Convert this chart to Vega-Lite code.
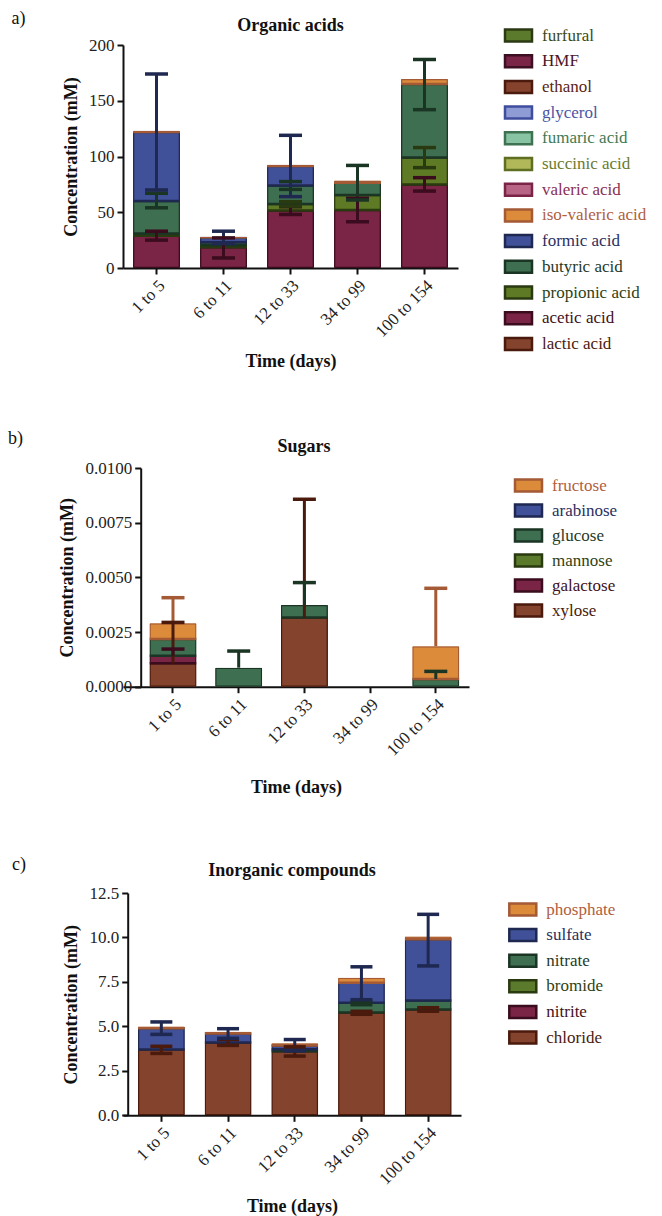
{
  "$schema": "https://vega.github.io/schema/vega-lite/v6.json",
  "background": "white",
  "padding": {"left": 7, "top": 10, "right": 0, "bottom": 0},
  "spacing": 59,
  "columns": 1,
  "align": "none",
  "resolve": {"scale": {"fill": "independent", "stroke": "independent", "x": "independent", "y": "independent"}, "legend": {"fill": "independent", "stroke": "independent"}},
  "config": {
    "view": {"stroke": null},
    "font": "Liberation Serif",
    "axis": {"labelFont": "Liberation Serif", "labelFontSize": 17, "labelColor": "#222", "titleFont": "Liberation Serif", "titleFontSize": 18, "titleFontWeight": "bold", "titleColor": "#111", "domainColor": "#111", "domainWidth": 2, "tickColor": "#111", "tickWidth": 2, "tickSize": 6, "grid": false, "labelPadding": 3},
    "axisY": {"titlePadding": 8},
    "axisX": {"labelAngle": -45, "titlePadding": 13},
    "legend": {"labelFont": "Liberation Serif", "labelFontSize": 17},
    "title": {"font": "Liberation Serif", "fontSize": 18, "fontWeight": "bold", "color": "#111"}
  },
  "concat": [
    {
      "title": {"text": "a)", "anchor": "start", "frame": "bounds", "fontSize": 18, "fontWeight": "normal", "dx": -51, "dy": 15},
      "vconcat": [
        {
          "title": {"text": "Organic acids", "frame": "group", "offset": 10, "dy": 9},
          "width": 335,
          "height": 223,
          "layer": [
            {
              "data": {"values": [
                {"t": "1 to 5", "compound": "acetic acid", "v": 29},
                {"t": "1 to 5", "compound": "propionic acid", "v": 2},
                {"t": "1 to 5", "compound": "butyric acid", "v": 29},
                {"t": "1 to 5", "compound": "formic acid", "v": 62},
                {"t": "1 to 5", "compound": "iso-valeric acid", "v": 1.2},
                {"t": "6 to 11", "compound": "acetic acid", "v": 18.5},
                {"t": "6 to 11", "compound": "propionic acid", "v": 2},
                {"t": "6 to 11", "compound": "butyric acid", "v": 2.5},
                {"t": "6 to 11", "compound": "formic acid", "v": 4.5},
                {"t": "6 to 11", "compound": "iso-valeric acid", "v": 0.5},
                {"t": "12 to 33", "compound": "acetic acid", "v": 51.5},
                {"t": "12 to 33", "compound": "propionic acid", "v": 6},
                {"t": "12 to 33", "compound": "butyric acid", "v": 16.5},
                {"t": "12 to 33", "compound": "formic acid", "v": 17.5},
                {"t": "12 to 33", "compound": "iso-valeric acid", "v": 1},
                {"t": "34 to 99", "compound": "acetic acid", "v": 52},
                {"t": "34 to 99", "compound": "propionic acid", "v": 13.5},
                {"t": "34 to 99", "compound": "butyric acid", "v": 11},
                {"t": "34 to 99", "compound": "iso-valeric acid", "v": 2},
                {"t": "100 to 154", "compound": "acetic acid", "v": 75},
                {"t": "100 to 154", "compound": "propionic acid", "v": 24},
                {"t": "100 to 154", "compound": "butyric acid", "v": 66},
                {"t": "100 to 154", "compound": "iso-valeric acid", "v": 4.5}
              ]},
              "transform": [{"calculate": "indexof(['furfural','HMF','ethanol','glycerol','fumaric acid','succinic acid','valeric acid','iso-valeric acid','formic acid','butyric acid','propionic acid','acetic acid','lactic acid'], datum.compound)", "as": "k"}],
              "mark": {"type": "bar", "strokeWidth": 2.5, "cornerRadius": 1},
              "encoding": {
                "x": {"field": "t", "type": "nominal", "scale": {"domain": ["1 to 5", "6 to 11", "12 to 33", "34 to 99", "100 to 154"], "paddingInner": 0.3, "paddingOuter": 0.15}, "axis": {"title": "Time (days)"}},
                "y": {"field": "v", "type": "quantitative", "stack": "zero", "scale": {"domain": [0, 200], "nice": false}, "axis": {"title": "Concentration (mM)", "values": [0, 50, 100, 150, 200], "format": "d"}},
                "fill": {"field": "compound", "type": "nominal",
                  "scale": {"domain": ["furfural","HMF","ethanol","glycerol","fumaric acid","succinic acid","valeric acid","iso-valeric acid","formic acid","butyric acid","propionic acid","acetic acid","lactic acid"],
                    "range": ["#5b7a2b","#7a2548","#85432d","#8e9bd4","#88c4a4","#b0b85a","#b86585","#db8b3a","#40519a","#3f6f51","#5f7a24","#7a2446","#84432c"]},
                  "legend": {"title": null, "orient": "none", "legendX": 384, "legendY": -21, "padding": 0, "symbolType": "M-1.35,-0.6H1.35V0.6H-1.35Z", "symbolSize": 400, "symbolStrokeWidth": 2.5, "labelFont": "Liberation Serif", "labelFontSize": 17, "labelOffset": 12, "rowPadding": 2.7, "labelLimit": 200,
                    "encode": {"labels": {"update": {"fill": {"signal": "['#3a4a1a','#4a1628','#5a2414','#4a55a5','#3f7a55','#6a7a2e','#8a3050','#b0603f','#2a3060','#1f3a28','#2f3f15','#3f1020','#4a1a0e'][indexof(['furfural','HMF','ethanol','glycerol','fumaric acid','succinic acid','valeric acid','iso-valeric acid','formic acid','butyric acid','propionic acid','acetic acid','lactic acid'], datum.value)]"}}}}}},
                "stroke": {"field": "compound", "type": "nominal",
                  "scale": {"domain": ["furfural","HMF","ethanol","glycerol","fumaric acid","succinic acid","valeric acid","iso-valeric acid","formic acid","butyric acid","propionic acid","acetic acid","lactic acid"],
                    "range": ["#2c3a14","#3d0f22","#4a1a0e","#3f4d9e","#3e7250","#5e6e22","#7a2548","#a45a35","#1f2850","#1b3524","#2a3a10","#3a0c1d","#4a1a0d"]},
                  "legend": {"title": null, "orient": "none", "legendX": 384, "legendY": -21, "padding": 0, "symbolType": "M-1.35,-0.6H1.35V0.6H-1.35Z", "symbolSize": 400, "symbolStrokeWidth": 2.5, "labelFont": "Liberation Serif", "labelFontSize": 17, "labelOffset": 12, "rowPadding": 2.7, "labelLimit": 200,
                    "encode": {"labels": {"update": {"fill": {"signal": "['#3a4a1a','#4a1628','#5a2414','#4a55a5','#3f7a55','#6a7a2e','#8a3050','#b0603f','#2a3060','#1f3a28','#2f3f15','#3f1020','#4a1a0e'][indexof(['furfural','HMF','ethanol','glycerol','fumaric acid','succinic acid','valeric acid','iso-valeric acid','formic acid','butyric acid','propionic acid','acetic acid','lactic acid'], datum.value)]"}}}}}},
                "order": {"field": "k", "type": "quantitative", "sort": "descending"}
              }
            },
            {
              "data": {"name": "errA", "values": [
                {"t": "1 to 5", "compound": "acetic acid", "lo": 25, "hi": 33},
                {"t": "1 to 5", "compound": "butyric acid", "lo": 54, "hi": 67},
                {"t": "1 to 5", "compound": "formic acid", "lo": 70, "hi": 174},
                {"t": "6 to 11", "compound": "acetic acid", "lo": 9, "hi": 27},
                {"t": "6 to 11", "compound": "formic acid", "lo": 22, "hi": 33},
                {"t": "12 to 33", "compound": "acetic acid", "lo": 48, "hi": 55},
                {"t": "12 to 33", "compound": "propionic acid", "lo": 55.5, "hi": 59.5},
                {"t": "12 to 33", "compound": "butyric acid", "lo": 70.5, "hi": 77.5},
                {"t": "12 to 33", "compound": "formic acid", "lo": 64, "hi": 119},
                {"t": "34 to 99", "compound": "acetic acid", "lo": 41.5, "hi": 62.5},
                {"t": "34 to 99", "compound": "butyric acid", "lo": 61, "hi": 92},
                {"t": "100 to 154", "compound": "acetic acid", "lo": 69, "hi": 81},
                {"t": "100 to 154", "compound": "propionic acid", "lo": 90, "hi": 108},
                {"t": "100 to 154", "compound": "butyric acid", "lo": 142, "hi": 187}
              ]},
              "mark": {"type": "rule", "strokeWidth": 3},
              "encoding": {
                "x": {"field": "t", "type": "nominal"},
                "y": {"field": "lo", "type": "quantitative"},
                "y2": {"field": "hi"},
                "stroke": {"field": "compound", "type": "nominal", "legend": null}
              }
            },
            {
              "data": {"name": "errA"},
              "mark": {"type": "point", "shape": "M-1,0H1", "filled": false, "strokeWidth": 3.5, "size": 529, "opacity": 1},
              "encoding": {
                "x": {"field": "t", "type": "nominal"},
                "y": {"field": "hi", "type": "quantitative"},
                "stroke": {"field": "compound", "type": "nominal", "legend": null}
              }
            },
            {
              "data": {"name": "errA"},
              "mark": {"type": "point", "shape": "M-1,0H1", "filled": false, "strokeWidth": 3.5, "size": 529, "opacity": 1},
              "encoding": {
                "x": {"field": "t", "type": "nominal"},
                "y": {"field": "lo", "type": "quantitative"},
                "stroke": {"field": "compound", "type": "nominal", "legend": null}
              }
            }
          ]
        }
      ]
    },
    {
      "title": {"text": "b)", "anchor": "start", "frame": "bounds", "fontSize": 18, "fontWeight": "normal", "dx": -51, "dy": 14},
      "vconcat": [
        {
          "title": {"text": "Sugars", "frame": "group", "offset": 10, "dy": 7, "dx": 8},
          "width": 346,
          "height": 218.7,
          "layer": [
            {
              "data": {"values": [
                {"t": "1 to 5", "compound": "xylose", "v": 0.00107},
                {"t": "1 to 5", "compound": "galactose", "v": 0.00035},
                {"t": "1 to 5", "compound": "glucose", "v": 0.00076},
                {"t": "1 to 5", "compound": "fructose", "v": 0.00072},
                {"t": "6 to 11", "compound": "glucose", "v": 0.00087},
                {"t": "12 to 33", "compound": "xylose", "v": 0.00316},
                {"t": "12 to 33", "compound": "glucose", "v": 0.00058},
                {"t": "100 to 154", "compound": "glucose", "v": 0.00035},
                {"t": "100 to 154", "compound": "fructose", "v": 0.0015}
              ]},
              "transform": [{"calculate": "indexof(['fructose','arabinose','glucose','mannose','galactose','xylose'], datum.compound)", "as": "k"}],
              "mark": {"type": "bar", "strokeWidth": 2.5, "cornerRadius": 1},
              "encoding": {
                "x": {"field": "t", "type": "nominal", "scale": {"domain": ["1 to 5", "6 to 11", "12 to 33", "34 to 99", "100 to 154"], "paddingInner": 0.285, "paddingOuter": 0.2757, "align": 0.7316}, "axis": {"title": "Time (days)", "titlePadding": 20}},
                "y": {"field": "v", "type": "quantitative", "stack": "zero", "scale": {"domain": [0, 0.01], "nice": false}, "axis": {"title": "Concentration (mM)", "values": [0, 0.0025, 0.005, 0.0075, 0.01], "format": ".4f", "offset": -17.7}},
                "fill": {"field": "compound", "type": "nominal",
                  "scale": {"domain": ["fructose","arabinose","glucose","mannose","galactose","xylose"], "range": ["#db8b3a","#40519a","#3f6f51","#5b7a2b","#7a2446","#84432c"]},
                  "legend": {"title": null, "orient": "none", "legendX": 394, "legendY": 6, "padding": 0, "symbolType": "M-1.35,-0.6H1.35V0.6H-1.35Z", "symbolSize": 400, "symbolStrokeWidth": 2.5, "labelFont": "Liberation Serif", "labelFontSize": 17, "labelOffset": 12, "rowPadding": 2.0, "labelLimit": 200,
                    "encode": {"labels": {"update": {"fill": {"signal": "['#b0603f','#2a3060','#1f3a28','#2f3f15','#3f1020','#4a1a0e'][indexof(['fructose','arabinose','glucose','mannose','galactose','xylose'], datum.value)]"}}}}}},
                "stroke": {"field": "compound", "type": "nominal",
                  "scale": {"domain": ["fructose","arabinose","glucose","mannose","galactose","xylose"], "range": ["#a45a35","#1f2850","#1b3524","#2a3a10","#3a0c1d","#4a1a0d"]},
                  "legend": {"title": null, "orient": "none", "legendX": 394, "legendY": 6, "padding": 0, "symbolType": "M-1.35,-0.6H1.35V0.6H-1.35Z", "symbolSize": 400, "symbolStrokeWidth": 2.5, "labelFont": "Liberation Serif", "labelFontSize": 17, "labelOffset": 12, "rowPadding": 2.0, "labelLimit": 200,
                    "encode": {"labels": {"update": {"fill": {"signal": "['#b0603f','#2a3060','#1f3a28','#2f3f15','#3f1020','#4a1a0e'][indexof(['fructose','arabinose','glucose','mannose','galactose','xylose'], datum.value)]"}}}}}},
                "order": {"field": "k", "type": "quantitative", "sort": "descending"}
              }
            },
            {
              "data": {"name": "errB", "values": [
                {"t": "1 to 5", "compound": "xylose", "lo": 0.00107, "hi": 0.00294},
                {"t": "1 to 5", "compound": "galactose", "lo": 0.00142, "hi": 0.00172},
                {"t": "1 to 5", "compound": "fructose", "lo": 0.0029, "hi": 0.00407},
                {"t": "6 to 11", "compound": "glucose", "lo": 0.00087, "hi": 0.00163},
                {"t": "12 to 33", "compound": "xylose", "lo": 0.00316, "hi": 0.00857},
                {"t": "12 to 33", "compound": "glucose", "lo": 0.00374, "hi": 0.00476},
                {"t": "100 to 154", "compound": "glucose", "lo": 0.00035, "hi": 0.0007},
                {"t": "100 to 154", "compound": "fructose", "lo": 0.00185, "hi": 0.0045}
              ]},
              "mark": {"type": "rule", "strokeWidth": 3},
              "encoding": {
                "x": {"field": "t", "type": "nominal"},
                "y": {"field": "lo", "type": "quantitative"},
                "y2": {"field": "hi"},
                "stroke": {"field": "compound", "type": "nominal", "legend": null}
              }
            },
            {
              "data": {"name": "errB"},
              "mark": {"type": "point", "shape": "M-1,0H1", "filled": false, "strokeWidth": 3.5, "size": 529, "opacity": 1},
              "encoding": {
                "x": {"field": "t", "type": "nominal"},
                "y": {"field": "hi", "type": "quantitative"},
                "stroke": {"field": "compound", "type": "nominal", "legend": null}
              }
            }
          ]
        }
      ]
    },
    {
      "title": {"text": "c)", "anchor": "start", "frame": "bounds", "fontSize": 18, "fontWeight": "normal", "dx": -51, "dy": 16},
      "vconcat": [
        {
          "title": {"text": "Inorganic compounds", "frame": "group", "offset": 10, "dy": 6},
          "width": 338,
          "height": 222.3,
          "layer": [
            {
              "data": {"values": [
                {"t": "1 to 5", "compound": "chloride", "v": 3.7},
                {"t": "1 to 5", "compound": "sulfate", "v": 1.2},
                {"t": "1 to 5", "compound": "phosphate", "v": 0.1},
                {"t": "6 to 11", "compound": "chloride", "v": 4.1},
                {"t": "6 to 11", "compound": "sulfate", "v": 0.5},
                {"t": "6 to 11", "compound": "phosphate", "v": 0.1},
                {"t": "12 to 33", "compound": "chloride", "v": 3.6},
                {"t": "12 to 33", "compound": "nitrate", "v": 0.12},
                {"t": "12 to 33", "compound": "sulfate", "v": 0.2},
                {"t": "12 to 33", "compound": "phosphate", "v": 0.13},
                {"t": "34 to 99", "compound": "chloride", "v": 5.78},
                {"t": "34 to 99", "compound": "nitrate", "v": 0.55},
                {"t": "34 to 99", "compound": "sulfate", "v": 1.12},
                {"t": "34 to 99", "compound": "phosphate", "v": 0.28},
                {"t": "100 to 154", "compound": "chloride", "v": 5.95},
                {"t": "100 to 154", "compound": "nitrate", "v": 0.5},
                {"t": "100 to 154", "compound": "sulfate", "v": 3.45},
                {"t": "100 to 154", "compound": "phosphate", "v": 0.15}
              ]},
              "transform": [{"calculate": "indexof(['phosphate','sulfate','nitrate','bromide','nitrite','chloride'], datum.compound)", "as": "k"}],
              "mark": {"type": "bar", "strokeWidth": 2.5, "cornerRadius": 1},
              "encoding": {
                "x": {"field": "t", "type": "nominal", "scale": {"domain": ["1 to 5", "6 to 11", "12 to 33", "34 to 99", "100 to 154"], "paddingInner": 0.3, "paddingOuter": 0.1837, "align": 0.612}, "axis": {"title": "Time (days)", "titlePadding": 10}},
                "y": {"field": "v", "type": "quantitative", "stack": "zero", "scale": {"domain": [0, 12.5], "nice": false}, "axis": {"title": "Concentration (mM)", "values": [0, 2.5, 5, 7.5, 10, 12.5], "format": ".1f", "offset": -4.7}},
                "fill": {"field": "compound", "type": "nominal",
                  "scale": {"domain": ["phosphate","sulfate","nitrate","bromide","nitrite","chloride"], "range": ["#db8b3a","#40519a","#3f6f51","#5b7a2b","#7a2446","#84432c"]},
                  "legend": {"title": null, "orient": "none", "legendX": 388.3, "legendY": 5, "padding": 0, "symbolType": "M-1.35,-0.6H1.35V0.6H-1.35Z", "symbolSize": 400, "symbolStrokeWidth": 2.5, "labelFont": "Liberation Serif", "labelFontSize": 17, "labelOffset": 12, "rowPadding": 2.6, "labelLimit": 200,
                    "encode": {"labels": {"update": {"fill": {"signal": "['#b0603f','#2a3060','#1f3a28','#2f3f15','#3f1020','#4a1a0e'][indexof(['phosphate','sulfate','nitrate','bromide','nitrite','chloride'], datum.value)]"}}}}}},
                "stroke": {"field": "compound", "type": "nominal",
                  "scale": {"domain": ["phosphate","sulfate","nitrate","bromide","nitrite","chloride"], "range": ["#a45a35","#1f2850","#1b3524","#2a3a10","#3a0c1d","#4a1a0d"]},
                  "legend": {"title": null, "orient": "none", "legendX": 388.3, "legendY": 5, "padding": 0, "symbolType": "M-1.35,-0.6H1.35V0.6H-1.35Z", "symbolSize": 400, "symbolStrokeWidth": 2.5, "labelFont": "Liberation Serif", "labelFontSize": 17, "labelOffset": 12, "rowPadding": 2.6, "labelLimit": 200,
                    "encode": {"labels": {"update": {"fill": {"signal": "['#b0603f','#2a3060','#1f3a28','#2f3f15','#3f1020','#4a1a0e'][indexof(['phosphate','sulfate','nitrate','bromide','nitrite','chloride'], datum.value)]"}}}}}},
                "order": {"field": "k", "type": "quantitative", "sort": "descending"}
              }
            },
            {
              "data": {"name": "errC", "values": [
                {"t": "1 to 5", "compound": "chloride", "lo": 3.48, "hi": 3.88},
                {"t": "1 to 5", "compound": "sulfate", "lo": 4.55, "hi": 5.25},
                {"t": "6 to 11", "compound": "chloride", "lo": 3.93, "hi": 4.27},
                {"t": "6 to 11", "compound": "sulfate", "lo": 4.33, "hi": 4.87},
                {"t": "12 to 33", "compound": "chloride", "lo": 3.33, "hi": 3.85},
                {"t": "12 to 33", "compound": "sulfate", "lo": 3.62, "hi": 4.26},
                {"t": "34 to 99", "compound": "chloride", "lo": 5.68, "hi": 5.85},
                {"t": "34 to 99", "compound": "nitrate", "lo": 6.22, "hi": 6.4},
                {"t": "34 to 99", "compound": "sulfate", "lo": 6.5, "hi": 8.35},
                {"t": "100 to 154", "compound": "chloride", "lo": 5.85, "hi": 6.05},
                {"t": "100 to 154", "compound": "sulfate", "lo": 8.4, "hi": 11.3}
              ]},
              "mark": {"type": "rule", "strokeWidth": 3},
              "encoding": {
                "x": {"field": "t", "type": "nominal"},
                "y": {"field": "lo", "type": "quantitative"},
                "y2": {"field": "hi"},
                "stroke": {"field": "compound", "type": "nominal", "legend": null}
              }
            },
            {
              "data": {"name": "errC"},
              "mark": {"type": "point", "shape": "M-1,0H1", "filled": false, "strokeWidth": 3.5, "size": 484, "opacity": 1},
              "encoding": {
                "x": {"field": "t", "type": "nominal"},
                "y": {"field": "hi", "type": "quantitative"},
                "stroke": {"field": "compound", "type": "nominal", "legend": null}
              }
            },
            {
              "data": {"name": "errC"},
              "mark": {"type": "point", "shape": "M-1,0H1", "filled": false, "strokeWidth": 3.5, "size": 484, "opacity": 1},
              "encoding": {
                "x": {"field": "t", "type": "nominal"},
                "y": {"field": "lo", "type": "quantitative"},
                "stroke": {"field": "compound", "type": "nominal", "legend": null}
              }
            }
          ]
        }
      ]
    }
  ]
}
